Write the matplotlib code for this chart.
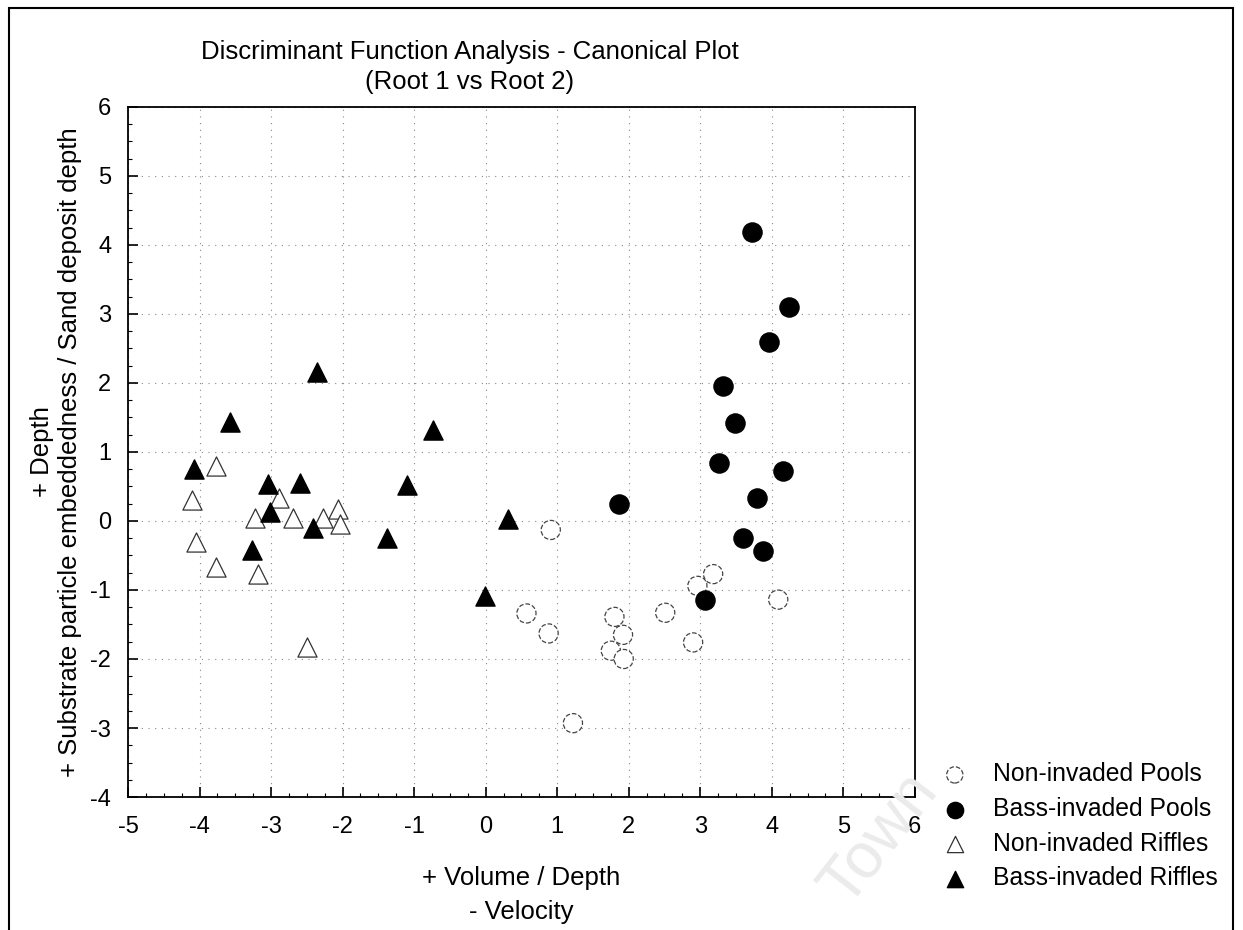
import numpy as np
import matplotlib
matplotlib.use('Agg')
import matplotlib.pyplot as plt
from matplotlib import font_manager
from matplotlib.ticker import MultipleLocator
from matplotlib.patches import Rectangle

plt.rcParams.update({
    'font.family': ['Liberation Sans', 'DejaVu Sans'],
    'font.size': 17,
    'axes.unicode_minus': False,
})

installed = {f.name for f in font_manager.fontManager.ttflist}
if 'Liberation Sans Narrow' in installed:
    title_font, title_size = ['Liberation Sans Narrow', 'Liberation Sans'], 21
else:
    title_font, title_size = ['Liberation Sans', 'DejaVu Sans'], 18.5

# Canonical scores (Root 1, Root 2)
nonpool_x = [0.91, 0.57, 0.88, 1.80, 1.92, 1.75, 1.93, 1.22, 2.51, 2.96, 3.18, 2.90, 4.09]
nonpool_y = [-0.13, -1.34, -1.63, -1.39, -1.65, -1.88, -2.00, -2.93, -1.33, -0.94, -0.77, -1.76, -1.14]

basspool_x = [3.73, 4.24, 3.96, 3.32, 3.49, 3.26, 4.16, 3.80, 3.60, 3.88, 3.06, 1.87]
basspool_y = [4.19, 3.10, 2.60, 1.96, 1.42, 0.84, 0.72, 0.34, -0.24, -0.44, -1.14, 0.25]

nonriff_x = [-4.11, -3.77, -4.05, -3.77, -3.23, -3.18, -2.89, -2.70, -2.28, -2.07, -2.03, -2.50]
nonriff_y = [0.31, 0.79, -0.30, -0.66, 0.05, -0.77, 0.34, 0.05, 0.05, 0.17, -0.05, -1.83]

bassriff_x = [-2.36, -3.57, -4.08, -3.04, -2.60, -3.02, -2.42, -3.27, -1.38, -0.73, -1.10, 0.31, -0.01]
bassriff_y = [2.16, 1.44, 0.76, 0.54, 0.55, 0.13, -0.10, -0.42, -0.25, 1.32, 0.52, 0.03, -1.09]

fig = plt.figure(figsize=(12.43, 9.30), dpi=100)
ax = fig.add_axes([0.103, 0.143, 0.633, 0.742])

# outer frame of the scanned page
fig.patches.append(Rectangle((0.007, -0.05), 0.985, 1.041, transform=fig.transFigure,
                             fill=False, edgecolor='black', linewidth=1.5))

# faint watermark
fig.text(0.708, 0.098, "Town", fontsize=46, color='#ebebeb', rotation=52,
         ha='center', va='center', zorder=0)

ax.scatter(nonpool_x, nonpool_y, s=190, marker='o', facecolors='white',
           edgecolors='#444444', linewidths=0.9, linestyle='--', zorder=3,
           label="Non-invaded Pools")
ax.scatter(basspool_x, basspool_y, s=190, marker='o', facecolors='black',
           edgecolors='black', zorder=3, label="Bass-invaded Pools")
ax.scatter(nonriff_x, nonriff_y, s=190, marker='^', facecolors='white',
           edgecolors='#333333', linewidths=0.9, zorder=3,
           label="Non-invaded Riffles")
ax.scatter(bassriff_x, bassriff_y, s=190, marker='^', facecolors='black',
           edgecolors='black', zorder=3, label="Bass-invaded Riffles")

ax.set_xlim(-5, 6)
ax.set_ylim(-4, 6)
ax.xaxis.set_major_locator(MultipleLocator(1))
ax.yaxis.set_major_locator(MultipleLocator(1))
ax.xaxis.set_minor_locator(MultipleLocator(0.25))
ax.yaxis.set_minor_locator(MultipleLocator(0.25))
ax.tick_params(which='both', direction='in', top=False, right=False)
ax.tick_params(which='major', length=7, width=1.2, labelsize=17)
ax.tick_params(axis='x', which='major', pad=14)
ax.tick_params(axis='y', which='major', pad=12)
ax.tick_params(which='minor', length=3, width=0.8)
for sp in ax.spines.values():
    sp.set_linewidth(1.3)
ax.grid(True, which='major', color='#888888', linestyle=(0, (1, 5)),
        linewidth=0.8)

ax.set_xlabel("+ Volume / Depth\n- Velocity", fontsize=18.5, linespacing=1.5)
ax.xaxis.set_label_coords(0.5, -0.1)
ax.set_ylabel("+ Depth\n+ Substrate particle embeddedness / Sand deposit depth",
              fontsize=18.5, linespacing=1.25)
ax.yaxis.set_label_coords(-0.058, 0.5)

fig.text(0.378, 0.928, "Discriminant Function Analysis - Canonical Plot\n(Root 1 vs Root 2)",
         ha='center', va='center', fontsize=title_size, linespacing=1.3,
         family=title_font)

ax.legend(loc='center left', bbox_to_anchor=(1.0225, -0.0425), frameon=False,
          fontsize=17.8, handlelength=1.0, handletextpad=1.04, labelspacing=0.43,
          borderaxespad=0, scatterpoints=1, markerscale=0.85)

plt.savefig("out.png", dpi=100)
